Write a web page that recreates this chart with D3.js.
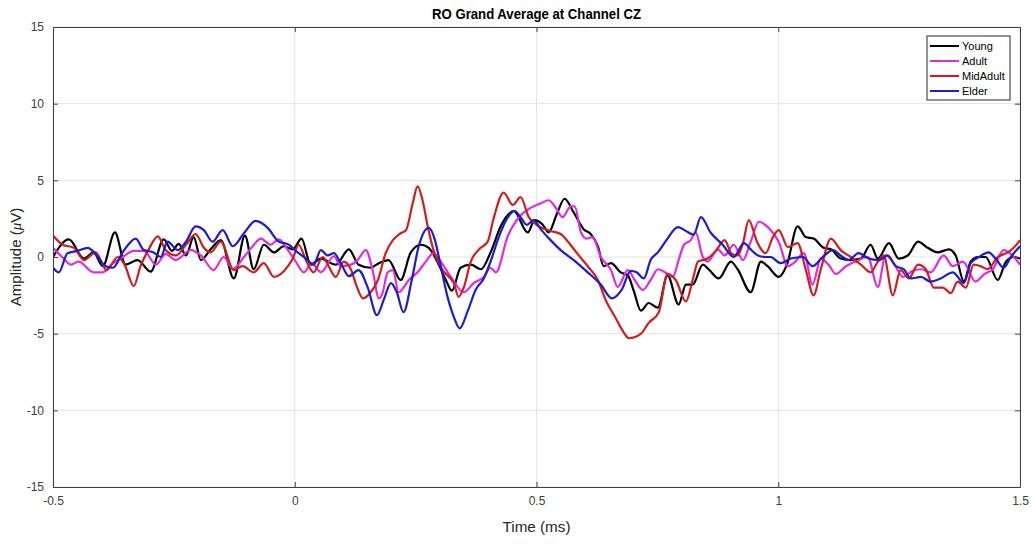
<!DOCTYPE html>
<html>
<head>
  <title>RO Grand Average at Channel CZ</title>
  <meta charset="utf-8">
  <script src="https://cdn.jsdelivr.net/npm/d3@7"></script>
  <style>
    body { margin: 0; background: #fff; }
    text { font-family: Arial, "Liberation Sans", Helvetica, sans-serif; }
  </style>
</head>
<body>
<script>

// data: [time, amplitude]
var young = [[-0.5,0],[-0.467,1.15],[-0.436,-0.1],[-0.416,0.3],[-0.397,-0.6],[-0.372,1.6],[-0.350,-0.5],[-0.325,-0.2],[-0.298,-0.95],[-0.271,1.15],[-0.254,0.4],[-0.240,0.85],[-0.225,0.1],[-0.209,1.3],[-0.194,-0.2],[-0.174,0.5],[-0.153,1.1],[-0.126,-1.4],[-0.103,1.4],[-0.085,-0.8],[-0.064,0.8],[-0.043,0.3],[-0.023,0.7],[-0.004,0.5],[0.014,1.2],[0.033,-0.5],[0.054,-0.1],[0.085,-0.5],[0.112,0.5],[0.132,-0.5],[0.157,-0.7],[0.174,-0.4],[0.194,-0.2],[0.219,-1.5],[0.240,0.3],[0.261,0.8],[0.277,0.6],[0.298,-0.5],[0.314,-1.6],[0.325,-2.2],[0.343,-0.7],[0.364,-0.5],[0.385,-0.8],[0.405,0.3],[0.426,2.0],[0.453,3.0],[0.482,1.6],[0.496,2.4],[0.513,2.1],[0.525,1.6],[0.542,2.8],[0.558,3.8],[0.577,2.9],[0.598,1.8],[0.612,1.5],[0.627,0.7],[0.639,-0.6],[0.654,-0.4],[0.674,-1.0],[0.689,-1.2],[0.701,-2.2],[0.716,-3.5],[0.732,-3.0],[0.751,-3.3],[0.771,-1.2],[0.794,-3.1],[0.809,-1.8],[0.823,-1.8],[0.844,-0.5],[0.856,-0.8],[0.877,-1.4],[0.902,-0.3],[0.916,-0.8],[0.943,-2.3],[0.964,-0.3],[0.978,-0.6],[1.001,-1.3],[1.018,-0.5],[1.040,2.0],[1.057,1.3],[1.073,1.2],[1.094,0.6],[1.109,0.5],[1.129,-0.1],[1.150,-0.2],[1.171,-0.1],[1.191,0.8],[1.206,-0.1],[1.229,0.9],[1.249,-0.1],[1.268,0.1],[1.289,1.0],[1.309,0.6],[1.330,0.3],[1.353,0.5],[1.367,0.1],[1.384,-1.6],[1.398,-0.3],[1.413,0],[1.429,0],[1.454,-1.5],[1.471,-0.3],[1.487,0],[1.5,-0.1]];

var adult = [[-0.5,0.6],[-0.478,-0.1],[-0.463,-0.5],[-0.447,-0.3],[-0.416,-1.0],[-0.397,-1.0],[-0.376,-0.4],[-0.360,-0.1],[-0.333,0.4],[-0.312,0.4],[-0.287,-0.5],[-0.267,0.2],[-0.246,-0.2],[-0.215,0.45],[-0.194,0.1],[-0.168,-0.85],[-0.147,0],[-0.128,-0.8],[-0.105,0],[-0.087,0.7],[-0.070,1.2],[-0.050,0.8],[-0.033,1.15],[-0.014,0.45],[0.002,-0.3],[0.019,-1.0],[0.035,-0.4],[0.054,-1.0],[0.081,0.05],[0.095,-0.6],[0.116,-0.5],[0.130,-0.2],[0.147,0.45],[0.161,-0.85],[0.174,-2.7],[0.182,-2.3],[0.192,-1.0],[0.203,-0.85],[0.215,-2.3],[0.236,-1.5],[0.254,-1.0],[0.271,-0.3],[0.287,0.25],[0.302,-0.3],[0.323,-1.3],[0.350,-2.3],[0.370,-1.7],[0.391,-1.3],[0.405,-0.7],[0.416,-1.0],[0.441,1.4],[0.457,2.3],[0.467,2.7],[0.488,3.2],[0.509,3.5],[0.525,3.7],[0.540,3.2],[0.554,2.6],[0.571,3.3],[0.579,3.3],[0.592,1.6],[0.604,1.2],[0.616,1.3],[0.633,0],[0.654,-0.85],[0.668,-1.95],[0.689,-0.85],[0.703,-1.5],[0.720,-2.15],[0.736,-1.5],[0.751,-0.8],[0.771,-1.1],[0.782,-1.3],[0.794,-0.2],[0.805,0.8],[0.819,1.1],[0.829,1.6],[0.844,0],[0.854,-0.3],[0.875,0.5],[0.889,0.1],[0.908,0.8],[0.927,-0.2],[0.943,1.0],[0.960,2.3],[0.980,1.9],[1.001,1.0],[1.020,-0.6],[1.032,-0.4],[1.053,0.25],[1.071,-1.8],[1.088,-0.1],[1.104,-0.5],[1.119,-1.1],[1.140,-0.6],[1.160,-0.3],[1.185,0],[1.206,-1.95],[1.222,0.1],[1.239,-0.4],[1.258,-1.3],[1.278,-0.9],[1.295,-0.8],[1.315,-1.0],[1.342,0.1],[1.361,-0.6],[1.382,-0.3],[1.408,-1.6],[1.427,-1.1],[1.444,-0.8],[1.466,0.45],[1.481,0.2],[1.5,-0.5]];

var midAdult = [[-0.5,1.4],[-0.480,0.8],[-0.457,0.6],[-0.436,-0.2],[-0.412,0.3],[-0.389,-0.85],[-0.366,0],[-0.352,-0.5],[-0.333,-1.9],[-0.319,-0.6],[-0.302,0.5],[-0.283,1.35],[-0.267,0.45],[-0.246,0.1],[-0.225,0.8],[-0.205,1.5],[-0.188,0.6],[-0.174,0.3],[-0.153,1.0],[-0.126,-0.85],[-0.108,-0.6],[-0.085,-1.0],[-0.064,-0.4],[-0.043,-1.3],[-0.014,-0.6],[-0.004,-0.1],[0.008,0.8],[0.023,-0.2],[0.039,-1.0],[0.058,0],[0.070,-0.6],[0.085,-1.3],[0.101,-0.3],[0.116,-0.8],[0.128,-1.9],[0.141,-2.7],[0.157,-2.3],[0.172,-1.5],[0.188,0.25],[0.203,1.1],[0.219,1.55],[0.230,1.75],[0.244,3.5],[0.254,4.6],[0.265,3.6],[0.275,2.0],[0.287,0.45],[0.306,-0.85],[0.319,-1.3],[0.329,-1.7],[0.339,-2.6],[0.350,-1.95],[0.364,-0.3],[0.381,0.5],[0.399,1.0],[0.412,2.6],[0.432,4.2],[0.451,3.4],[0.467,3.9],[0.484,2.6],[0.505,2.0],[0.529,1.7],[0.550,1.5],[0.565,1.0],[0.585,0.2],[0.606,-0.6],[0.627,-1.5],[0.643,-2.8],[0.664,-4.0],[0.678,-4.8],[0.691,-5.3],[0.716,-5.0],[0.732,-4.3],[0.753,-3.6],[0.771,-1.1],[0.788,-1.5],[0.809,-2.9],[0.823,-1.5],[0.834,-0.3],[0.854,-0.1],[0.871,0.4],[0.889,1.1],[0.904,0.2],[0.916,0.1],[0.927,0.9],[0.939,2.4],[0.956,1.0],[0.974,0.25],[0.989,1.3],[1.001,1.75],[1.020,0.65],[1.040,0.9],[1.057,-0.85],[1.073,-2.5],[1.088,-0.8],[1.109,1.2],[1.129,0.45],[1.150,0],[1.171,-0.5],[1.191,-1.0],[1.206,-0.3],[1.218,0.1],[1.237,-2.5],[1.253,-0.85],[1.270,-1.4],[1.289,-0.5],[1.305,-0.8],[1.322,-2.0],[1.340,-2.0],[1.357,-2.35],[1.371,-1.6],[1.388,-2.0],[1.404,-0.5],[1.419,-0.6],[1.433,-0.8],[1.454,0],[1.475,0.3],[1.487,0.6],[1.5,1.1]];

var elder = [[-0.5,-0.7],[-0.488,-1.0],[-0.470,0.25],[-0.449,0.4],[-0.428,0.6],[-0.412,0.2],[-0.391,-0.6],[-0.376,-0.7],[-0.356,0.3],[-0.329,1.2],[-0.312,0.45],[-0.292,0.3],[-0.277,0],[-0.263,1.0],[-0.242,0.45],[-0.225,1.0],[-0.205,2.0],[-0.188,1.75],[-0.170,1.0],[-0.149,1.75],[-0.128,0.7],[-0.105,1.55],[-0.081,2.35],[-0.056,1.9],[-0.033,1.0],[-0.012,0.8],[0.006,0.3],[0.023,-0.1],[0.039,-0.5],[0.054,0.45],[0.068,0.1],[0.081,0.25],[0.095,-0.4],[0.112,-1.25],[0.132,-0.85],[0.151,-2.0],[0.170,-3.8],[0.184,-2.8],[0.199,-1.7],[0.211,-2.3],[0.225,-3.6],[0.242,-1.5],[0.256,0.65],[0.277,1.9],[0.290,1.1],[0.298,0],[0.316,-2.6],[0.329,-3.9],[0.341,-4.65],[0.358,-3.5],[0.374,-2.15],[0.391,-1.4],[0.405,-0.3],[0.422,1.3],[0.441,2.6],[0.455,3.0],[0.467,2.6],[0.480,2.1],[0.494,2.4],[0.509,1.8],[0.529,1.1],[0.550,0.45],[0.577,-0.2],[0.606,-1.0],[0.633,-1.8],[0.656,-2.7],[0.676,-2.15],[0.695,-0.9],[0.707,-1.0],[0.722,-1.4],[0.736,-0.2],[0.751,0.3],[0.771,1.2],[0.792,1.95],[0.809,1.7],[0.825,1.45],[0.840,2.6],[0.860,1.6],[0.885,0.8],[0.908,0],[0.929,0.9],[0.943,0.5],[0.958,0.1],[0.974,0],[0.984,0],[1.005,-0.4],[1.026,-0.1],[1.051,0],[1.071,-0.6],[1.092,0],[1.113,0.45],[1.129,0.1],[1.146,-0.2],[1.166,0.25],[1.187,-0.1],[1.208,-0.2],[1.226,0.1],[1.243,-0.6],[1.260,-0.8],[1.274,-1.4],[1.295,-1.3],[1.315,-1.6],[1.336,-1.4],[1.361,-1.0],[1.384,-1.7],[1.398,-0.4],[1.415,0],[1.435,0.3],[1.452,-0.2],[1.466,-0.7],[1.481,0],[1.5,0.7]];

var seriesNames = ["Young", "Adult", "MidAdult", "Elder"];
var seriesColors = ["#000000", "#e02be0", "#d01e1e", "#1c1cd0"];
var xTicks = [-0.5, 0, 0.5, 1, 1.5];
var yTicks = [-15, -10, -5, 0, 5, 10, 15];

var svgWidth = 1034, svgHeight = 548;
var margin = {left: 53, top: 27, right: 14, bottom: 61};
var w = svgWidth - margin.left - margin.right;
var h = svgHeight - margin.top - margin.bottom;
var axisColor = "#404040";

var svg = d3.select("body").append("svg")
    .attr("width", svgWidth)
    .attr("height", svgHeight);

var graph = svg.append("g")
    .attr("transform", "translate(" + margin.left + "," + margin.top + ")");

var x = d3.scaleLinear().domain([-0.5, 1.5]).range([0, w]);
var y = d3.scaleLinear().domain([-15, 15]).range([h, 0]);

// grid
graph.append("g").selectAll("line.gx")
    .data(xTicks).enter().append("line")
    .attr("x1", function(d) { return x(d); }).attr("x2", function(d) { return x(d); })
    .attr("y1", 0).attr("y2", h)
    .attr("stroke", "#e3e3e3").attr("stroke-width", 1);
graph.append("g").selectAll("line.gy")
    .data(yTicks).enter().append("line")
    .attr("y1", function(d) { return y(d); }).attr("y2", function(d) { return y(d); })
    .attr("x1", 0).attr("x2", w)
    .attr("stroke", "#e3e3e3").attr("stroke-width", 1);

// lines
graph.append("clipPath").attr("id", "clip")
  .append("rect").attr("width", w).attr("height", h);

var line = d3.line()
    .curve(d3.curveMonotoneX)
    .x(function(d) { return x(d[0]); })
    .y(function(d) { return y(d[1]); });

var allSeries = [young, adult, midAdult, elder];
graph.append("g").attr("clip-path", "url(#clip)")
  .selectAll("path").data(allSeries).enter().append("path")
    .attr("d", line)
    .attr("fill", "none")
    .attr("stroke", function(d, i) { return seriesColors[i]; })
    .attr("stroke-width", 2.2)
    .attr("stroke-linejoin", "round");

// axes (ticks inward, box on all sides)
function styleAxis(g) {
  g.select(".domain").attr("stroke", axisColor);
  g.selectAll(".tick line").attr("stroke", axisColor);
  g.selectAll(".tick text").attr("fill", "#404040")
    .style("font-size", "12px");
}

graph.append("g")
    .attr("transform", "translate(0," + h + ")")
    .call(d3.axisBottom(x).tickValues(xTicks).tickSizeInner(-5).tickSizeOuter(0).tickPadding(9)
      .tickFormat(function(d) { return String(d); }))
    .call(styleAxis);

graph.append("g")
    .call(d3.axisLeft(y).tickValues(yTicks).tickSizeInner(-5).tickSizeOuter(0).tickPadding(9)
      .tickFormat(function(d) { return String(d); }))
    .call(styleAxis);

graph.append("g")
    .call(d3.axisTop(x).tickValues(xTicks).tickSizeInner(-5).tickSizeOuter(0).tickFormat(""))
    .call(styleAxis);

graph.append("g")
    .attr("transform", "translate(" + w + ",0)")
    .call(d3.axisRight(y).tickValues(yTicks).tickSizeInner(-5).tickSizeOuter(0).tickFormat(""))
    .call(styleAxis);

// title and labels
svg.append("text")
    .attr("x", margin.left + w / 2).attr("y", 19)
    .attr("text-anchor", "middle")
    .style("font-size", "14px").style("font-weight", "bold")
    .attr("fill", "#000")
    .attr("textLength", 209).attr("lengthAdjust", "spacingAndGlyphs")
    .text("RO Grand Average at Channel CZ");

svg.append("text")
    .attr("x", margin.left + w / 2).attr("y", 532)
    .attr("text-anchor", "middle")
    .style("font-size", "15px")
    .attr("fill", "#262626")
    .attr("textLength", 68).attr("lengthAdjust", "spacingAndGlyphs")
    .text("Time (ms)");

var yl = svg.append("text")
    .attr("transform", "translate(21," + (margin.top + h / 2) + ") rotate(-90)")
    .attr("text-anchor", "middle")
    .style("font-size", "15px")
    .attr("fill", "#262626");
yl.append("tspan").text("Amplitude (");
yl.append("tspan").style("font-style", "italic").style("font-family", "'Times New Roman', 'Liberation Serif', serif").text("\u03bc");
yl.append("tspan").text("V)");

// legend
var legend = svg.append("g").attr("transform", "translate(927,36)");
legend.append("rect")
    .attr("width", 83).attr("height", 64)
    .attr("fill", "#fff").attr("stroke", "#262626").attr("stroke-width", 1);
var item = legend.selectAll("g.item").data(seriesNames).enter().append("g")
    .attr("transform", function(d, i) { return "translate(0," + (10 + i * 15) + ")"; });
item.append("line")
    .attr("x1", 3).attr("x2", 32)
    .attr("stroke", function(d, i) { return seriesColors[i]; })
    .attr("stroke-width", 2);
item.append("text")
    .attr("x", 35).attr("dy", "0.35em")
    .style("font-size", "11px")
    .attr("fill", "#000")
    .text(function(d) { return d; });

</script>
</body>
</html>
